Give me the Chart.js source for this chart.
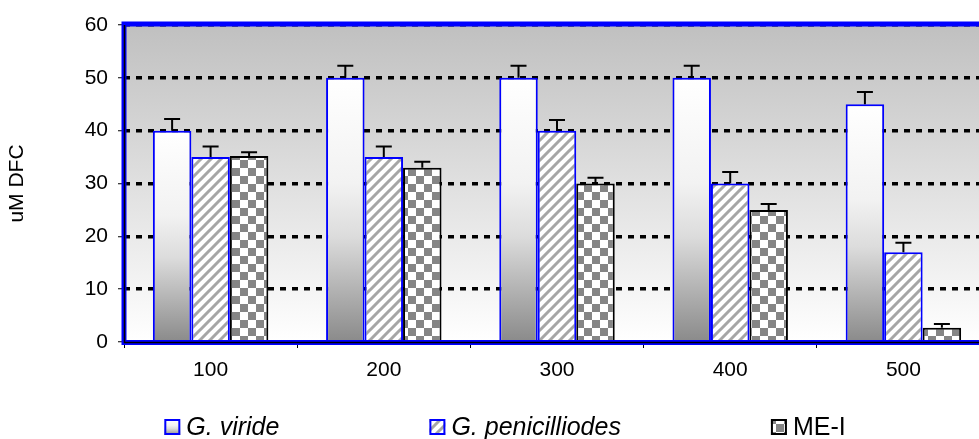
<!DOCTYPE html>
<html>
<head>
<meta charset="utf-8">
<script src="https://cdn.jsdelivr.net/npm/chart.js@4/dist/chart.umd.min.js"></script>
<style>
    html, body { margin: 0; padding: 0; background: #fff; overflow: hidden; }
</style>
</head>
<body>
<canvas id="dfcChart" width="1006" height="439"></canvas>
<script>
// data
const categories = ['100', '200', '300', '400', '500'];
const viride = [40, 50, 50, 50, 45];
const viridErr = [2.2, 2.3, 2.3, 2.3, 2.3];
const penicilliodes = [35, 35, 40, 30, 17];
const penErr = [2, 2, 2, 2.2, 1.8];
const meI = [35.2, 33, 30, 25, 2.7];
const meErr = [0.7, 1.1, 1.1, 1.1, 0.7];
const yTicks = [0, 10, 20, 30, 40, 50, 60];

const FONT = "'Liberation Sans', Arial, sans-serif";

// fill patterns
function makeHatch() {
    const n = 10;
    const tile = document.createElement('canvas');
    tile.width = n; tile.height = n;
    const t = tile.getContext('2d');
    t.fillStyle = '#fff';
    t.fillRect(0, 0, n, n);
    t.strokeStyle = '#a6a6a6';
    t.lineWidth = 3;
    t.beginPath();
    t.moveTo(-n / 2, n / 2); t.lineTo(n / 2, -n / 2);
    t.moveTo(0, n); t.lineTo(n, 0);
    t.moveTo(n / 2, n * 1.5); t.lineTo(n * 1.5, n / 2);
    t.stroke();
    return t.createPattern(tile, 'repeat');
}

function makeChecker() {
    const tile = document.createElement('canvas');
    tile.width = 16; tile.height = 16;
    const t = tile.getContext('2d');
    t.fillStyle = '#fff';
    t.fillRect(0, 0, 16, 16);
    t.fillStyle = '#858585';
    t.fillRect(0, 0, 8, 8);
    t.fillRect(8, 8, 8, 8);
    return t.createPattern(tile, 'repeat');
}

const hatch = makeHatch();
const checker = makeChecker();

// white at the top of each bar, darker gray towards the base
function barGradient(c, yTop, yBot) {
    const g = c.createLinearGradient(0, yTop, 0, yBot);
    g.addColorStop(0, '#ffffff');
    g.addColorStop(0.4, '#f2f2f2');
    g.addColorStop(0.6, '#dcdcdc');
    g.addColorStop(1, '#8a8a8a');
    return g;
}

function viridFill(ctx) {
    const chart = ctx.chart;
    const y = chart.scales.y;
    if (!chart.chartArea || !y || ctx.raw === undefined) return '#fff';
    return barGradient(chart.ctx, y.getPixelForValue(ctx.raw), y.getPixelForValue(0));
}

// plot background: gray at top fading to white
const plotBackground = {
    id: 'plotBackground',
    beforeDraw(chart) {
        const { ctx, chartArea: a } = chart;
        const g = ctx.createLinearGradient(0, a.top, 0, a.bottom);
        g.addColorStop(0, '#c0c0c0');
        g.addColorStop(1, '#ffffff');
        ctx.save();
        ctx.fillStyle = g;
        ctx.fillRect(a.left, a.top, a.right - a.left, a.bottom - a.top);
        ctx.restore();
    }
};

// blue frame and black axis lines
const plotFrame = {
    id: 'plotFrame',
    afterDatasetsDraw(chart) {
        const { ctx, chartArea: a } = chart;
        ctx.save();
        ctx.strokeStyle = '#0000ff';
        ctx.lineWidth = 5;
        ctx.strokeRect(a.left, a.top - 1, a.right - a.left, a.bottom - a.top + 1.5);
        ctx.strokeStyle = '#000';
        ctx.lineWidth = 1.5;
        ctx.beginPath();
        ctx.moveTo(a.left + 0.5, a.top);
        ctx.lineTo(a.left + 0.5, a.bottom + 0.5);
        ctx.lineTo(a.right, a.bottom + 0.5);
        ctx.stroke();
        ctx.restore();
    }
};

// plus-only error bars with a cap
const errorBars = {
    id: 'errorBars',
    afterDatasetsDraw(chart) {
        const { ctx } = chart;
        const y = chart.scales.y;
        ctx.save();
        ctx.strokeStyle = '#000';
        ctx.lineWidth = 2;
        chart.data.datasets.forEach((ds, i) => {
            const meta = chart.getDatasetMeta(i);
            meta.data.forEach((bar, j) => {
                const top = y.getPixelForValue(ds.data[j] + ds.errors[j]);
                ctx.beginPath();
                ctx.moveTo(bar.x, bar.y);
                ctx.lineTo(bar.x, top);
                ctx.moveTo(bar.x - 8, top);
                ctx.lineTo(bar.x + 8, top);
                ctx.stroke();
            });
        });
        ctx.restore();
    }
};

// legend drawn by hand so the species names can be italic
const bottomLegend = {
    id: 'bottomLegend',
    afterDraw(chart) {
        const c = chart.ctx;
        const box = 16, textGap = 6, itemGap = 150, baseline = 435;
        const items = chart.data.datasets.map(ds => ({
            text: ds.label,
            font: (ds.italic ? 'italic ' : '') + '25px ' + FONT,
            border: ds.borderColor,
            fill: ds.legendFill
        }));
        c.save();
        let total = itemGap * (items.length - 1);
        items.forEach(it => {
            c.font = it.font;
            it.w = c.measureText(it.text).width;
            total += box + textGap + it.w;
        });
        let x = chart.width / 2 - total / 2 + 2;
        items.forEach(it => {
            const top = baseline - box;
            c.fillStyle = it.fill === 'gradient' ? barGradient(c, top, top + box) : it.fill;
            c.fillRect(x, top, box, box);
            c.strokeStyle = it.border;
            c.lineWidth = 2;
            c.strokeRect(x + 1, top + 1, box - 2, box - 2);
            c.font = it.font;
            c.fillStyle = '#000';
            c.textBaseline = 'alphabetic';
            c.fillText(it.text, x + box + textGap, baseline);
            x += box + textGap + it.w + itemGap;
        });
        c.restore();
    }
};

const ctx = document.getElementById('dfcChart').getContext('2d');

new Chart(ctx, {
    type: 'bar',
    data: {
        labels: categories,
        datasets: [
            {
                label: 'G. viride',
                italic: true,
                data: viride,
                errors: viridErr,
                backgroundColor: viridFill,
                legendFill: 'gradient',
                borderColor: '#0000ff',
                borderWidth: 2
            },
            {
                label: 'G. penicilliodes',
                italic: true,
                data: penicilliodes,
                errors: penErr,
                backgroundColor: hatch,
                legendFill: hatch,
                borderColor: '#0000ff',
                borderWidth: 2
            },
            {
                label: 'ME-I',
                italic: false,
                data: meI,
                errors: meErr,
                backgroundColor: checker,
                legendFill: checker,
                borderColor: '#000000',
                borderWidth: 2
            }
        ]
    },
    options: {
        responsive: false,
        maintainAspectRatio: false,
        animation: false,
        layout: { padding: { top: 25, right: 16, bottom: 0, left: 0 } },
        datasets: {
            bar: { categoryPercentage: 3 / 4.5, barPercentage: 1 }
        },
        plugins: {
            legend: { display: false },
            tooltip: { enabled: false }
        },
        scales: {
            x: {
                afterFit: s => { s.height = 97; },
                border: { display: false },
                grid: {
                    drawOnChartArea: false,
                    offset: true,
                    color: '#000',
                    lineWidth: 1,
                    tickLength: 6
                },
                ticks: {
                    color: '#000',
                    padding: 10,
                    font: { family: FONT, size: 21 }
                }
            },
            y: {
                min: 0,
                max: 60,
                afterFit: s => { s.width = 124; },
                afterBuildTicks: s => { s.ticks = yTicks.map(v => ({ value: v })); },
                border: { display: false, dash: [6, 6] },
                grid: {
                    color: '#000',
                    lineWidth: 3.5,
                    tickLength: 6,
                    tickColor: '#000',
                    tickWidth: 1,
                    tickBorderDash: []
                },
                ticks: {
                    color: '#000',
                    padding: 10,
                    font: { family: FONT, size: 21 }
                },
                title: {
                    display: true,
                    text: 'uM DFC',
                    color: '#000',
                    padding: { top: 5, bottom: 0 },
                    font: { family: FONT, size: 21 }
                }
            }
        }
    },
    plugins: [plotBackground, plotFrame, errorBars, bottomLegend]
});
</script>
</body>
</html>
